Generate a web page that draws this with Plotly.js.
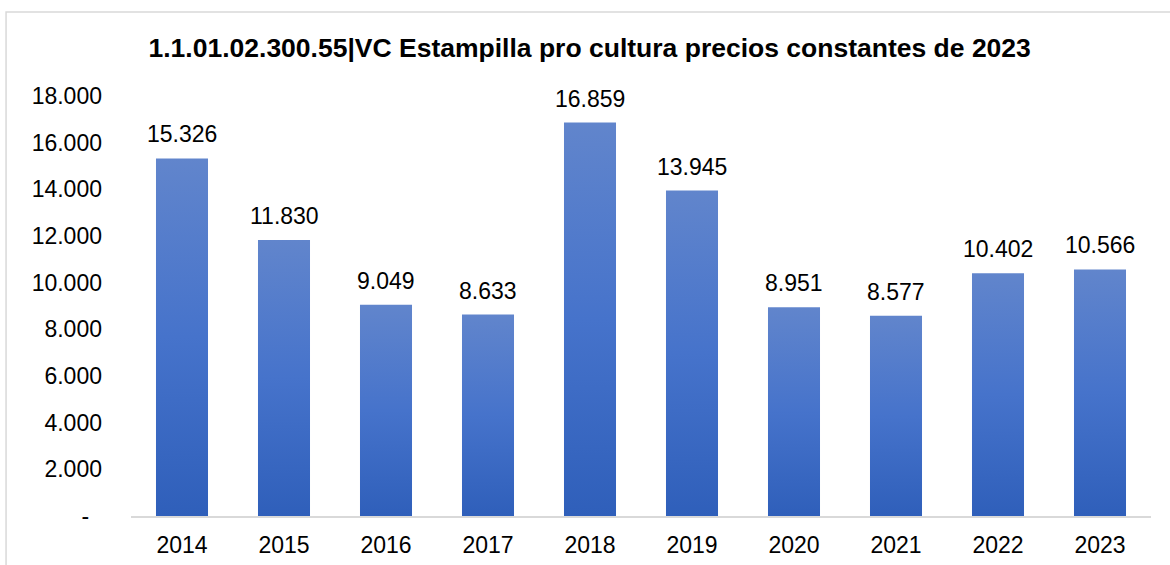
<!DOCTYPE html>
<html>
<head>
<meta charset="utf-8">
<script src="https://cdn.plot.ly/plotly-3.0.1.min.js"></script>
<style>
html,body{margin:0;padding:0;background:#fff;}
#chart{width:1170px;height:565px;}
</style>
</head>
<body>
<div id="chart"></div>
<script>
const years = ["2014","2015","2016","2017","2018","2019","2020","2021","2022","2023"];
const values = [15326, 11830, 9049, 8633, 16859, 13945, 8951, 8577, 10402, 10566];
const valueLabels = ["15.326","11.830","9.049","8.633","16.859","13.945","8.951","8.577","10.402","10.566"];
const yTickVals = [0, 2000, 4000, 6000, 8000, 10000, 12000, 14000, 16000, 18000];
const yTickText = ["-\u00a0\u00a0", "2.000", "4.000", "6.000", "8.000", "10.000", "12.000", "14.000", "16.000", "18.000"];
const titleText = "1.1.01.02.300.55|VC Estampilla pro cultura precios constantes de 2023";

const FONT = "Liberation Sans, Arial, sans-serif";

const trace = {
  type: "bar",
  x: years,
  y: values,
  marker: {color: "#4572c8", line: {width: 0}},
  hoverinfo: "x+y"
};

// category index positions on the category axis
const labelAnnotations = years.map(function(yr, i){
  return {
    x: i, y: values[i], xref: "x", yref: "y",
    text: valueLabels[i], showarrow: false,
    xanchor: "center", yanchor: "bottom", yshift: 9,
    font: {family: FONT, size: 23, color: "#000"}
  };
});

const layout = {
  width: 1170,
  height: 565,
  margin: {l: 131, r: 19, t: 96, b: 49},
  paper_bgcolor: "#fff",
  plot_bgcolor: "#fff",
  showlegend: false,
  bargap: 0.49,
  font: {family: FONT, size: 23, color: "#000"},
  title: {
    text: "<b>" + titleText + "</b>",
    font: {family: FONT, size: 26.5, color: "#000"},
    x: 0.504, xanchor: "center", y: 0.916, yanchor: "middle"
  },
  xaxis: {
    type: "category",
    categoryorder: "array", categoryarray: years,
    range: [-0.5, years.length - 0.5],
    showline: true, linecolor: "#d9d9d9", linewidth: 1.5,
    ticks: "", showgrid: false, zeroline: false,
    ticklabelstandoff: 8,
    tickfont: {family: FONT, size: 23, color: "#000"}
  },
  yaxis: {
    range: [0, 18000],
    tickvals: yTickVals, ticktext: yTickText,
    showgrid: false, zeroline: false, showline: false, ticks: "",
    ticklabelstandoff: 28,
    tickfont: {family: FONT, size: 23, color: "#000"}
  },
  annotations: labelAnnotations,
  shapes: [{
    type: "rect", xref: "paper", yref: "paper",
    x0: -0.1225, x1: 1.05, y0: -0.3, y1: 1.2,
    line: {color: "#d9d9d9", width: 1.5}, fillcolor: "rgba(0,0,0,0)", layer: "below"
  }]
};

Plotly.newPlot("chart", [trace], layout, {staticPlot: true}).then(function(gd){
  const svg = gd.querySelector(".main-svg");
  const ns = "http://www.w3.org/2000/svg";
  let defs = svg.querySelector("defs");
  if (!defs) { defs = document.createElementNS(ns, "defs"); svg.insertBefore(defs, svg.firstChild); }
  const grad = document.createElementNS(ns, "linearGradient");
  grad.setAttribute("id", "barGrad");
  grad.setAttribute("x1", "0"); grad.setAttribute("y1", "0");
  grad.setAttribute("x2", "0"); grad.setAttribute("y2", "1");
  const stops = [["0", "#6185cc"], ["0.5", "#4673cb"], ["1", "#2f5fba"]];
  stops.forEach(function(s){
    const st = document.createElementNS(ns, "stop");
    st.setAttribute("offset", s[0]); st.setAttribute("stop-color", s[1]);
    grad.appendChild(st);
  });
  defs.appendChild(grad);
  gd.querySelectorAll(".bars .point path").forEach(function(p){
    p.style.fill = "url(#barGrad)";
  });
});
</script>
</body>
</html>
